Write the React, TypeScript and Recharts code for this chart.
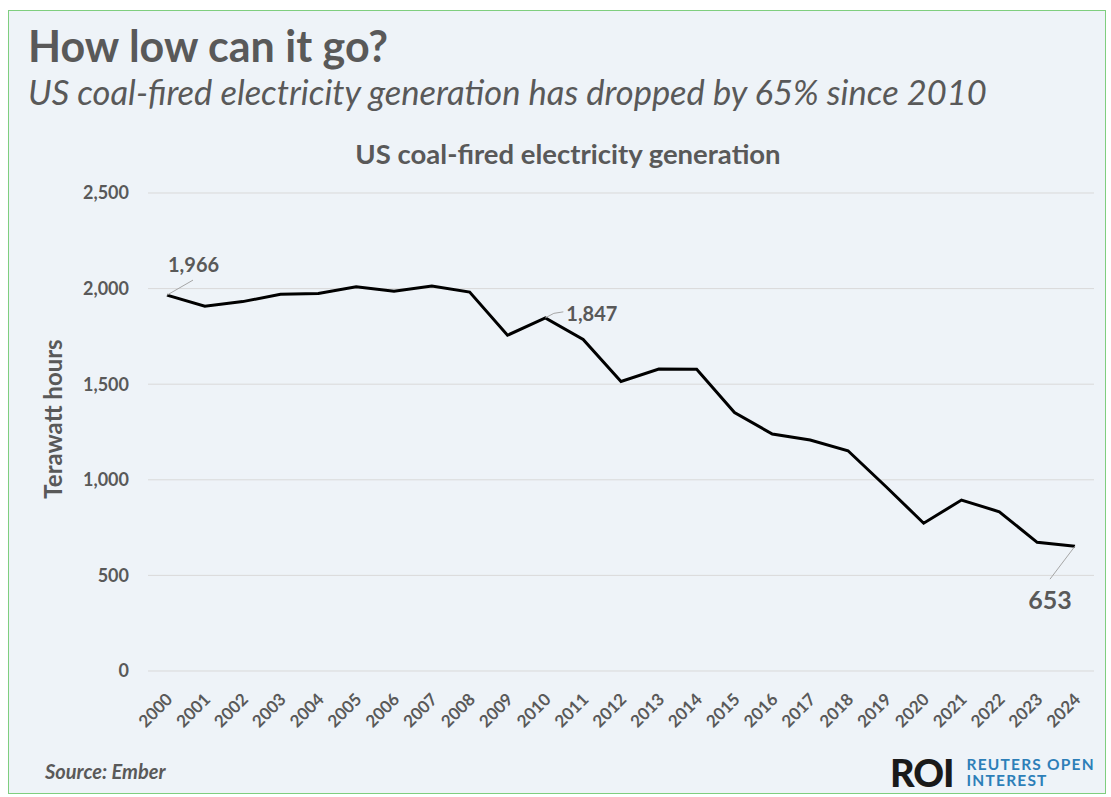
import React from "react";
import { CartesianGrid, LabelList, Line, LineChart, XAxis, YAxis } from "recharts";

// US coal-fired generation, TWh (Ember)
const years = [
  "2000", "2001", "2002", "2003", "2004", "2005", "2006", "2007", "2008", "2009",
  "2010", "2011", "2012", "2013", "2014", "2015", "2016", "2017", "2018", "2019",
  "2020", "2021", "2022", "2023", "2024",
];
const generation = [
  1966, 1908, 1932, 1970, 1974, 2009, 1986, 2014, 1982, 1756,
  1847, 1734, 1514, 1579, 1578, 1352, 1239, 1208, 1152, 965,
  773, 894, 833, 673, 653,
];
const yTicks = [0, 500, 1000, 1500, 2000, 2500];
// indexes of points that carry a callout
const calloutIdx = [0, 10, 24];

const FONT = "Lato, 'Open Sans', sans-serif";
const INK = "#595959";

const rows = years.map((year, i) => ({ year, twh: generation[i] }));

const fmt = (v: number) => v.toLocaleString("en-US");

function Callout(props: any) {
  const { x, y, value, index } = props;
  if (!calloutIdx.includes(index)) return null;
  if (index === 0) {
    return (
      <g>
        <line x1={x} y1={y} x2={x + 26} y2={y - 15} stroke="#a6a6a6" strokeWidth={1} />
        <text x={x + 1} y={y - 23} fill={INK} fontSize={20} fontWeight={700} fontFamily={FONT}>
          {fmt(value)}
        </text>
      </g>
    );
  }
  if (index === 24) {
    return (
      <g>
        <line x1={x} y1={y} x2={x - 25} y2={y + 33} stroke="#a6a6a6" strokeWidth={1} />
        <text x={x - 25} y={y + 63} textAnchor="middle" fill={INK} fontSize={25} fontWeight={700} fontFamily={FONT}>
          {fmt(value)}
        </text>
      </g>
    );
  }
  return (
    <g>
      <path d={`M${x},${y} Q${x + 8},${y - 6} ${x + 18},${y - 6}`} fill="none" stroke="#a6a6a6" strokeWidth={1} />
      <text x={x + 21} y={y + 3} fill={INK} fontSize={20} fontWeight={700} fontFamily={FONT}>
        {fmt(value)}
      </text>
    </g>
  );
}

function YearTick(props: any) {
  const { x, y, payload } = props;
  const ax = x + 2;
  const ay = y + 17;
  return (
    <text
      x={ax}
      y={ay}
      transform={`rotate(-45 ${ax} ${ay})`}
      textAnchor="end"
      dominantBaseline="central"
      fill={INK}
      fontSize={17}
      fontWeight={700}
      fontFamily={FONT}
    >
      {payload.value}
    </text>
  );
}

export default function App() {
  return (
    <div
      style={{
        position: "absolute",
        left: 8,
        top: 10,
        width: 1098,
        height: 784,
        background: "#eef3f8",
        border: "1px solid #7fce7f",
        boxSizing: "border-box",
        fontFamily: FONT,
        color: INK,
      }}
    >
      <div style={{ position: "absolute", left: 19, top: 10, fontSize: 43, fontWeight: 700, lineHeight: "50px" }}>
        How low can it go?
      </div>
      <div style={{ position: "absolute", left: 19, top: 61, fontSize: 34.5, fontStyle: "italic", lineHeight: "40px" }}>
        US coal-fired electricity generation has dropped by 65% since 2010
      </div>

      <LineChart
        width={1096}
        height={740}
        data={rows}
        margin={{ top: 182, right: 11, bottom: 20, left: 0 }}
        style={{ position: "absolute", left: 0, top: 0 }}
      >
        <text x={559} y={153} textAnchor="middle" fill={INK} fontSize={27.5} fontWeight={700} fontFamily={FONT}>
          US coal-fired electricity generation
        </text>
        <CartesianGrid vertical={false} stroke="#d9d9d9" />
        <XAxis
          dataKey="year"
          interval={0}
          axisLine={false}
          tickLine={false}
          height={60}
          padding={{ left: 19, right: 19 }}
          tick={<YearTick />}
        />
        <YAxis
          domain={[0, 2500]}
          ticks={yTicks}
          width={139}
          axisLine={false}
          tickLine={false}
          tickMargin={13}
          tickFormatter={fmt}
          tick={{ fill: INK, fontSize: 18, fontWeight: 700, fontFamily: FONT }}
          label={{
            content: (p: any) => {
              const vb = p.viewBox;
              const cx = 43;
              const cy = vb.y + vb.height / 2 - 13;
              return (
                <text
                  x={cx}
                  y={cy}
                  transform={`rotate(-90 ${cx} ${cy})`}
                  textAnchor="middle"
                  dominantBaseline="central"
                  fill={INK}
                  fontSize={24}
                  fontWeight={700}
                  fontFamily={FONT}
                >
                  Terawatt hours
                </text>
              );
            },
          }}
        />
        <Line
          dataKey="twh"
          stroke="#000"
          strokeWidth={3}
          dot={false}
          isAnimationActive={false}
        >
          <LabelList dataKey="twh" content={<Callout />} />
        </Line>
      </LineChart>

      <div style={{ position: "absolute", left: 36, top: 748, fontSize: 20, fontWeight: 700, fontStyle: "italic" }}>
        Source: Ember
      </div>
      <div style={{ position: "absolute", left: 881, top: 741, display: "flex", alignItems: "center" }}>
        <span style={{ fontSize: 38, fontWeight: 900, color: "#1a1a1a", letterSpacing: -1, lineHeight: "40px" }}>ROI</span>
        <span
          style={{
            marginLeft: 13,
            fontSize: 15.5,
            fontWeight: 700,
            color: "#2d7fb8",
            lineHeight: "16px",
            letterSpacing: 1.2,
          }}
        >
          REUTERS OPEN
          <br />
          INTEREST
        </span>
      </div>
    </div>
  );
}
